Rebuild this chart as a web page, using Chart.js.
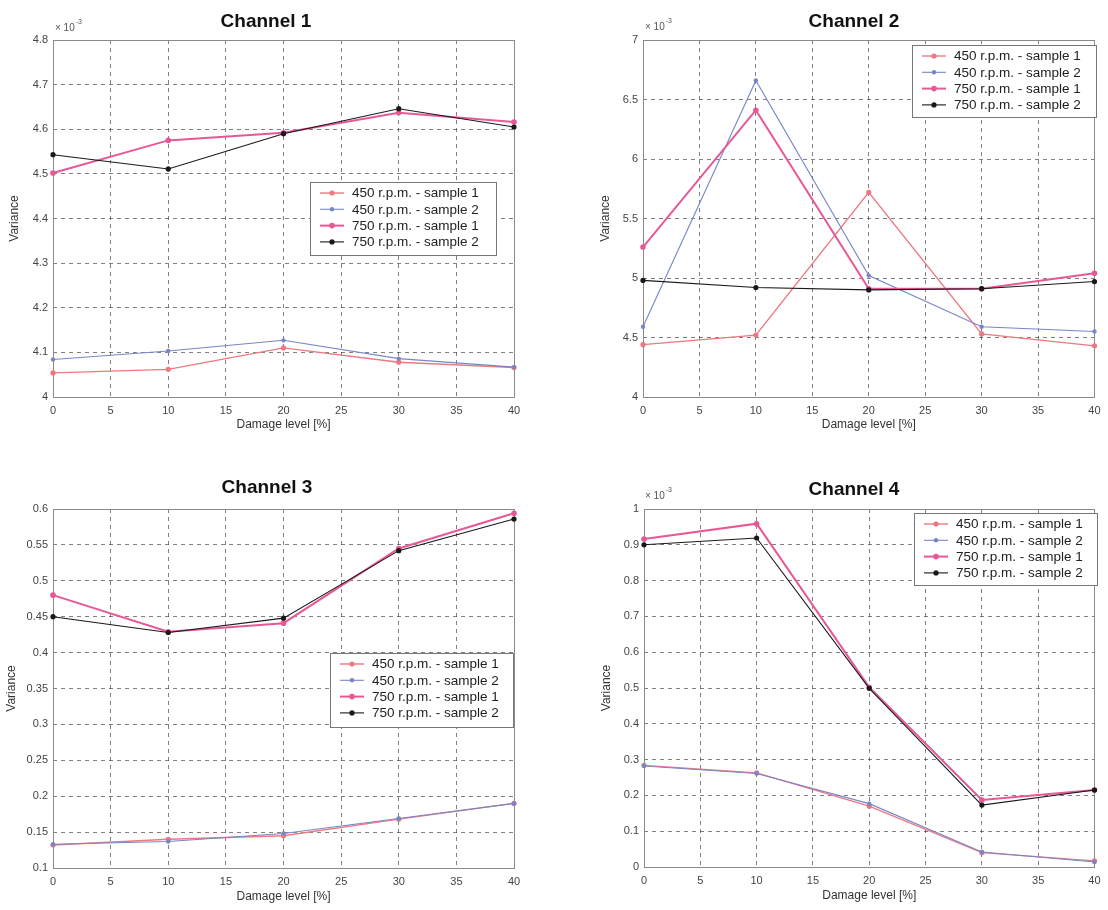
<!DOCTYPE html>
<html>
<head>
<meta charset="utf-8">
<script src="https://cdn.jsdelivr.net/npm/chart.js@4.4.1/dist/chart.umd.min.js"></script>
<style>
  html, body { margin: 0; padding: 0; background: #fff; }
  #fig { position: relative; width: 1108px; height: 910px; overflow: hidden; background: #fff; }
  #fig canvas { position: absolute; }
</style>
</head>
<body>
<div id="fig"></div>
<script>
// ---- data ----
const DAMAGE_LEVELS = [0, 10, 20, 30, 40];
const SERIES_NAMES = [
  '450 r.p.m. - sample 1',
  '450 r.p.m. - sample 2',
  '750 r.p.m. - sample 1',
  '750 r.p.m. - sample 2'
];

// Channel 1 (values x 10^-3)
const CH1_450_S1 = [4.054, 4.062, 4.110, 4.078, 4.066];
const CH1_450_S2 = [4.084, 4.103, 4.127, 4.086, 4.067];
const CH1_750_S1 = [4.502, 4.575, 4.592, 4.637, 4.616];
const CH1_750_S2 = [4.543, 4.511, 4.590, 4.646, 4.605];

// Channel 2 (values x 10^-3)
const CH2_450_S1 = [4.44, 4.52, 5.72, 4.53, 4.43];
const CH2_450_S2 = [4.59, 6.66, 5.02, 4.59, 4.55];
const CH2_750_S1 = [5.26, 6.41, 4.91, 4.91, 5.04];
const CH2_750_S2 = [4.98, 4.92, 4.90, 4.91, 4.97];

// Channel 3
const CH3_450_S1 = [0.132, 0.140, 0.145, 0.168, 0.190];
const CH3_450_S2 = [0.133, 0.137, 0.148, 0.169, 0.190];
const CH3_750_S1 = [0.480, 0.429, 0.441, 0.545, 0.594];
const CH3_750_S2 = [0.450, 0.428, 0.448, 0.542, 0.586];

// Channel 4 (values x 10^-3)
const CH4_450_S1 = [0.284, 0.263, 0.170, 0.040, 0.017];
const CH4_450_S2 = [0.282, 0.261, 0.177, 0.042, 0.014];
const CH4_750_S1 = [0.916, 0.959, 0.502, 0.187, 0.215];
const CH4_750_S2 = [0.900, 0.919, 0.499, 0.173, 0.215];

// axis ranges
const X_RANGE = [0, 40];
const X_STEP = 5;
const CH1_Y = [4.0, 4.8, 0.1];
const CH2_Y = [4.0, 7.0, 0.5];
const CH3_Y = [0.1, 0.6, 0.05];
const CH4_Y = [0.0, 1.0, 0.1];

// ---- styling ----
const FONT = '"Liberation Sans", Arial, Helvetica, sans-serif';
const GRID_COLOR = 'rgba(50,50,50,0.62)';
const BOX_COLOR = '#8a8a8a';
const STYLES = [
  { color: 'rgb(238,120,130)', width: 1.4, radius: 2.6 },
  { color: 'rgb(120,134,198)', width: 1.1, radius: 2.2 },
  { color: 'rgb(232,88,150)',  width: 2.0, radius: 2.8 },
  { color: 'rgb(25,25,25)',    width: 1.1, radius: 2.6 }
];

const fig = document.getElementById('fig');

// Draws the axes box, the panel title, the exponent note and a boxed legend.
const panelDecor = {
  id: 'panelDecor',
  beforeDatasetsDraw(chart, args, o) {
    const a = chart.chartArea, ctx = chart.ctx;
    ctx.save();
    ctx.strokeStyle = BOX_COLOR;
    ctx.lineWidth = 1;
    ctx.strokeRect(Math.round(a.left) + 0.5, Math.round(a.top) + 0.5,
                   Math.round(a.right - a.left), Math.round(a.bottom - a.top));
    ctx.restore();
  },
  afterDraw(chart, args, o) {
    const ctx = chart.ctx;
    ctx.save();
    // title
    ctx.fillStyle = '#111';
    ctx.font = 'bold 19px ' + FONT;
    ctx.textAlign = 'center';
    ctx.textBaseline = 'middle';
    ctx.fillText(o.title, o.titleX, o.titleY);
    // exponent
    if (o.exponent) {
      ctx.fillStyle = '#555';
      ctx.textAlign = 'left';
      ctx.font = '10px ' + FONT;
      ctx.fillText('\u00d7 10', o.expX, o.expY);
      const w = ctx.measureText('\u00d7 10').width;
      ctx.font = '7px ' + FONT;
      ctx.fillText(o.exponent, o.expX + w + 1, o.expY - 6);
    }
    // legend
    const L = o.legend;
    ctx.fillStyle = '#fff';
    ctx.fillRect(L.x, L.y, L.w, L.h);
    ctx.strokeStyle = '#777';
    ctx.lineWidth = 1;
    ctx.strokeRect(Math.round(L.x) + 0.5, Math.round(L.y) + 0.5, L.w, L.h);
    chart.data.datasets.forEach((ds, i) => {
      const cy = L.y + 11 + i * 16.3;
      ctx.strokeStyle = ds.borderColor;
      ctx.lineWidth = ds.borderWidth;
      ctx.beginPath();
      ctx.moveTo(L.x + 10, cy);
      ctx.lineTo(L.x + 34, cy);
      ctx.stroke();
      ctx.fillStyle = ds.pointBackgroundColor;
      ctx.beginPath();
      ctx.arc(L.x + 22, cy, ds.pointRadius, 0, Math.PI * 2);
      ctx.fill();
      ctx.fillStyle = '#222';
      ctx.font = '13.5px ' + FONT;
      ctx.textAlign = 'left';
      ctx.textBaseline = 'middle';
      ctx.fillText(ds.label, L.x + 42, cy + 0.5);
    });
    ctx.restore();
  }
};

function tickText(v) { return String(+Number(v).toFixed(3)); }

function makePanel(p) {
  const c = p.canvas;
  const cv = document.createElement('canvas');
  cv.width = c.w; cv.height = c.h;
  cv.style.left = c.x + 'px'; cv.style.top = c.y + 'px';
  cv.style.width = c.w + 'px'; cv.style.height = c.h + 'px';
  fig.appendChild(cv);

  const yAxisW = p.area.l - c.x;
  const xAxisH = c.y + c.h - p.area.b;
  const tickFont = { family: FONT, size: 11 };
  const labFont = { family: FONT, size: 12 };
  const labLH = 12 * 1.2;

  new Chart(cv, {
    type: 'line',
    data: {
      datasets: p.series.map((vals, i) => ({
        label: SERIES_NAMES[i],
        data: DAMAGE_LEVELS.map((x, k) => ({ x: x, y: vals[k] })),
        borderColor: STYLES[i].color,
        backgroundColor: STYLES[i].color,
        pointBackgroundColor: STYLES[i].color,
        pointBorderWidth: 0,
        pointRadius: STYLES[i].radius,
        borderWidth: STYLES[i].width,
        tension: 0,
        fill: false,
        clip: false,
        order: 4 - i
      }))
    },
    options: {
      responsive: false,
      animation: false,
      devicePixelRatio: 1,
      events: [],
      layout: { padding: { left: 0, top: p.area.t - c.y, right: c.x + c.w - p.area.r, bottom: 0 } },
      plugins: {
        legend: { display: false },
        tooltip: { enabled: false },
        title: { display: false },
        panelDecor: {
          title: p.title,
          titleX: p.titleX - c.x, titleY: p.titleY - c.y,
          exponent: p.exponent,
          expX: p.exp ? p.exp[0] - c.x : 0, expY: p.exp ? p.exp[1] - c.y : 0,
          legend: { x: p.legend.x - c.x, y: p.legend.y - c.y, w: p.legend.w, h: p.legend.h }
        }
      },
      scales: {
        x: {
          type: 'linear', position: 'bottom', min: X_RANGE[0], max: X_RANGE[1],
          ticks: { stepSize: X_STEP, autoSkip: false, maxRotation: 0, includeBounds: true,
                   padding: p.xTickY - p.area.b - 6.6, font: tickFont, color: '#444',
                   callback: v => tickText(v) },
          grid: { color: GRID_COLOR, lineWidth: 1, drawTicks: false },
          border: { display: false, dash: [4, 4] },
          title: { display: true, text: 'Damage level [%]', font: labFont, color: '#333',
                   padding: { top: 0, bottom: (c.y + c.h) - p.xTitleY - labLH / 2 } },
          afterFit(s) { s.height = xAxisH; }
        },
        y: {
          type: 'linear', position: 'left', min: p.y[0], max: p.y[1],
          ticks: { stepSize: p.y[2], padding: 5, font: tickFont, color: '#444',
                   callback: v => tickText(v) },
          grid: { color: GRID_COLOR, lineWidth: 1, drawTicks: false },
          border: { display: false, dash: [4, 4] },
          title: { display: true, text: 'Variance', font: labFont, color: '#333',
                   padding: { top: p.yTitleX - c.x - labLH / 2, bottom: 0 } },
          afterFit(s) { s.width = yAxisW; }
        }
      }
    },
    plugins: [panelDecor]
  });
}

makePanel({
  title: 'Channel 1', titleX: 266, titleY: 22, exponent: '-3', exp: [55, 28],
  canvas: { x: 0, y: 0, w: 545, h: 450 },
  area: { l: 53, t: 40, r: 514, b: 397 },
  y: CH1_Y, xTickY: 411, xTitleY: 425, yTitleX: 15,
  legend: { x: 310, y: 182, w: 186, h: 73 },
  series: [CH1_450_S1, CH1_450_S2, CH1_750_S1, CH1_750_S2]
});

makePanel({
  title: 'Channel 2', titleX: 854, titleY: 22, exponent: '-3', exp: [645, 27],
  canvas: { x: 590, y: 0, w: 518, h: 450 },
  area: { l: 643, t: 40, r: 1101, b: 397 },
  y: CH2_Y, xTickY: 411, xTitleY: 425, yTitleX: 606,
  legend: { x: 912, y: 45, w: 184, h: 72 },
  series: [CH2_450_S1, CH2_450_S2, CH2_750_S1, CH2_750_S2]
});

makePanel({
  title: 'Channel 3', titleX: 267, titleY: 488, exponent: null, exp: null,
  canvas: { x: 0, y: 455, w: 545, h: 455 },
  area: { l: 53, t: 509, r: 514, b: 868 },
  y: CH3_Y, xTickY: 882, xTitleY: 897, yTitleX: 12,
  legend: { x: 330, y: 653, w: 183, h: 74 },
  series: [CH3_450_S1, CH3_450_S2, CH3_750_S1, CH3_750_S2]
});

makePanel({
  title: 'Channel 4', titleX: 854, titleY: 490, exponent: '-3', exp: [645, 496],
  canvas: { x: 590, y: 455, w: 518, h: 455 },
  area: { l: 644, t: 509, r: 1102, b: 867 },
  y: CH4_Y, xTickY: 881, xTitleY: 896, yTitleX: 607,
  legend: { x: 914, y: 513, w: 183, h: 72 },
  series: [CH4_450_S1, CH4_450_S2, CH4_750_S1, CH4_750_S2]
});
</script>
</body>
</html>
